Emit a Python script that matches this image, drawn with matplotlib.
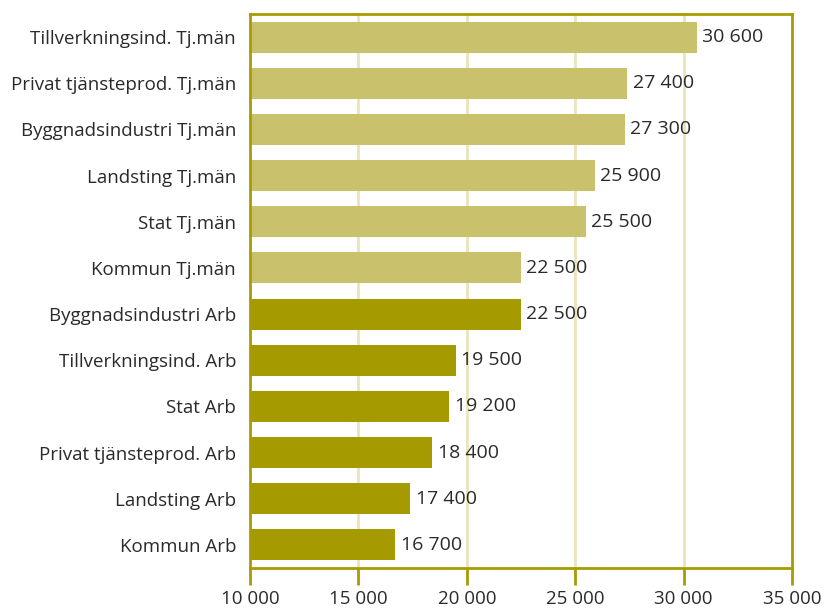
import matplotlib
matplotlib.use("Agg")
import matplotlib.pyplot as plt

categories = [
    "Tillverkningsind. Tj.män",
    "Privat tjänsteprod. Tj.män",
    "Byggnadsindustri Tj.män",
    "Landsting Tj.män",
    "Stat Tj.män",
    "Kommun Tj.män",
    "Byggnadsindustri Arb",
    "Tillverkningsind. Arb",
    "Stat Arb",
    "Privat tjänsteprod. Arb",
    "Landsting Arb",
    "Kommun Arb",
]
values = [30600, 27400, 27300, 25900, 25500, 22500, 22500, 19500, 19200, 18400, 17400, 16700]
groups = ["Tj"] * 6 + ["Arb"] * 6
xticks = [10000, 15000, 20000, 25000, 30000, 35000]

light = "#c9c16b"
dark = "#a59b00"
axis_col = "#a89c00"
grid_col = "#ebe4bb"
text_col = "#2a2a2a"

plt.rcParams['font.family'] = ['Open Sans', 'DejaVu Sans']

def fmt(v):
    return f"{v:,}".replace(",", " ")

fig = plt.figure(figsize=(8.25, 6.1), dpi=100)
ax = fig.add_axes([0.303, 0.069, 0.657, 0.908])

ypos = list(range(len(categories)))
colors = [light if g == "Tj" else dark for g in groups]
ax.barh(ypos, [v - xticks[0] for v in values], left=xticks[0], height=0.67,
        color=colors, zorder=2)

for y, v in zip(ypos, values):
    ax.text(v + 250, y, fmt(v), va="center", ha="left", fontsize=14, color=text_col)

ax.set_xlim(xticks[0], xticks[-1])
ax.set_ylim(len(categories) - 0.5, -0.5)
ax.set_yticks(ypos)
ax.set_yticklabels(categories, fontsize=13.5, color=text_col)
ax.set_xticks(xticks)
ax.set_xticklabels([fmt(t) for t in xticks], fontsize=13.5, color=text_col)

ax.tick_params(axis="y", length=0, pad=10)
ax.tick_params(axis="x", length=12, width=2, color=axis_col, pad=4)

for x in xticks[1:-1]:
    ax.axvline(x, color=grid_col, lw=2, zorder=1)

for s in ax.spines.values():
    s.set_color(axis_col)
    s.set_linewidth(2)

fig.savefig("out.png", dpi=100)
